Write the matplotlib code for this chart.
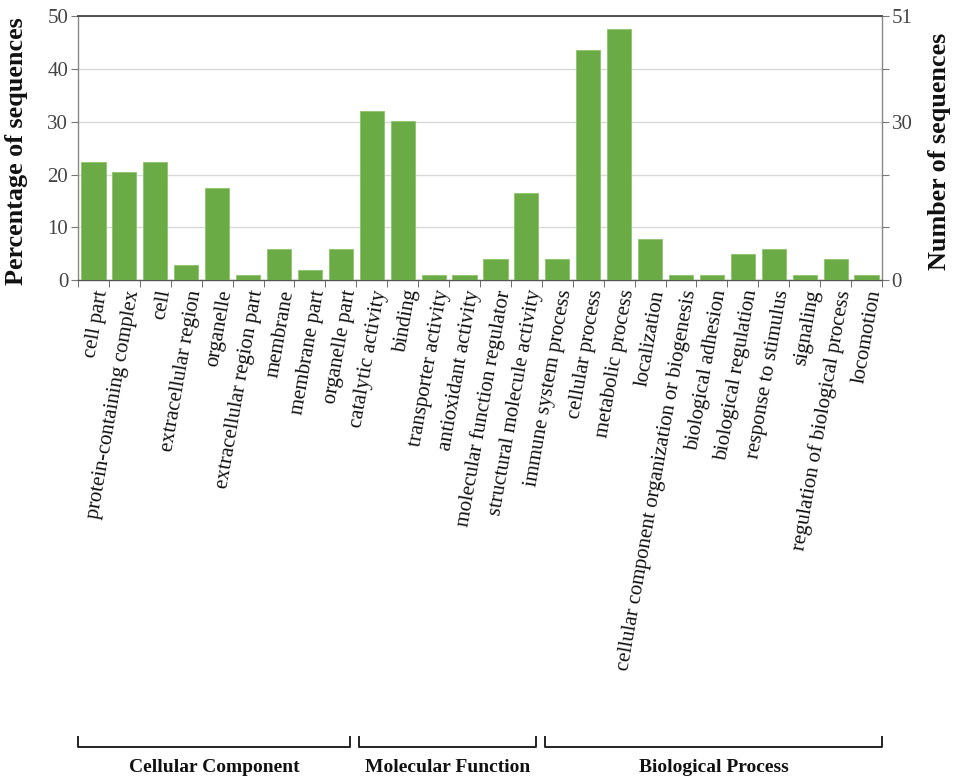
import matplotlib
matplotlib.use("Agg")
import matplotlib.pyplot as plt
import numpy as np
from matplotlib.transforms import blended_transform_factory

categories = ["cell part", "protein-containing complex", "cell", "extracellular region",
              "organelle", "extracellular region part", "membrane", "membrane part",
              "organelle part", "catalytic activity", "binding", "transporter activity",
              "antioxidant activity", "molecular function regulator",
              "structural molecule activity", "immune system process", "cellular process",
              "metabolic process", "localization",
              "cellular component organization or biogenesis", "biological adhesion",
              "biological regulation", "response to stimulus", "signaling",
              "regulation of biological process", "locomotion"]
percentages = [22.3, 20.4, 22.3, 2.9, 17.5, 1.0, 5.8, 1.9, 5.8,
               32.0, 30.1, 1.0, 1.0, 3.9, 16.5,
               3.9, 43.7, 47.6, 7.8, 1.0, 1.0, 4.9, 5.8, 1.0, 3.9, 1.0]
groups = ["Cellular Component", "Molecular Function", "Biological Process"]
group_sizes = [9, 6, 11]
left_ticks = [0, 10, 20, 30, 40, 50]
right_labels = ["0", "", "", "30", "", "51"]

serif = ["Liberation Serif", "DejaVu Serif"]
plt.rcParams["font.family"] = serif

fig = plt.figure(figsize=(9.57, 7.80), dpi=100)
ax = fig.add_axes([0.0815, 0.641, 0.8401, 0.338])

x = np.arange(len(categories))
ax.bar(x, percentages, width=0.78, color="#6aab45", edgecolor="#8cc46a", linewidth=0.6, zorder=3)
ax.set_xlim(-0.5, len(categories) - 0.5)
ax.set_ylim(0, 50)
ax.set_yticks(left_ticks)
ax.yaxis.grid(True, color="#d9d9d9", linewidth=1.0, zorder=0)
ax.set_axisbelow(True)

ax.set_xticks(x)
ax.set_xticklabels(categories, rotation=80, ha="right", rotation_mode="anchor",
                   fontsize=15, color="#111111")
ax.set_xticks(np.arange(-0.5, len(categories), 1.0), minor=True)
ax.tick_params(axis="x", which="major", length=0, pad=6)
ax.tick_params(axis="x", which="minor", length=5, color="#555555", direction="out")
ax.tick_params(axis="y", labelsize=15, length=5, color="#777777", labelcolor="#444444", pad=2)

for s in ["left", "right"]:
    ax.spines[s].set_color("#888888")
    ax.spines[s].set_linewidth(1.0)
ax.spines["top"].set_color("#444444")
ax.spines["top"].set_linewidth(1.3)
ax.spines["bottom"].set_color("#555555")
ax.spines["bottom"].set_linewidth(1.0)

ax2 = ax.twinx()
ax2.set_ylim(0, 50)
ax2.set_yticks(left_ticks)
ax2.set_yticklabels(right_labels)
ax2.tick_params(axis="y", labelsize=15, length=5, color="#777777", labelcolor="#444444", pad=2)
for s in ax2.spines.values():
    s.set_visible(False)

fig.text(0.017, 0.806, "Percentage of sequences", rotation=90, ha="center", va="center",
         fontsize=18.8, fontweight="bold", color="#111111")
fig.text(0.982, 0.806, "Number of sequences", rotation=90, ha="center", va="center",
         fontsize=18.8, fontweight="bold", color="#111111")

# group brackets
trans = blended_transform_factory(ax.transData, fig.transFigure)
y_bot = 1 - 747 / 780
y_top = 1 - 737 / 780
y_lab = 1 - 767 / 780
start = 0
for gi, (g, size) in enumerate(zip(groups, group_sizes)):
    i0, i1 = start, start + size - 1
    xs = i0 - 0.5 + (0.1 if gi > 0 else 0.0)
    xe = i1 + 0.5 - (0.2 if gi < len(groups) - 1 else 0.0)
    fig.add_artist(plt.Line2D([xs, xs, xe, xe], [y_top, y_bot, y_bot, y_top],
                              transform=trans, color="#222222", linewidth=1.4))
    fig.text((xs + xe) / 2, y_lab, g, transform=trans, ha="center", va="center",
             fontsize=14, fontweight="bold", color="#111111")
    start += size

fig.savefig("out.png", dpi=100)
